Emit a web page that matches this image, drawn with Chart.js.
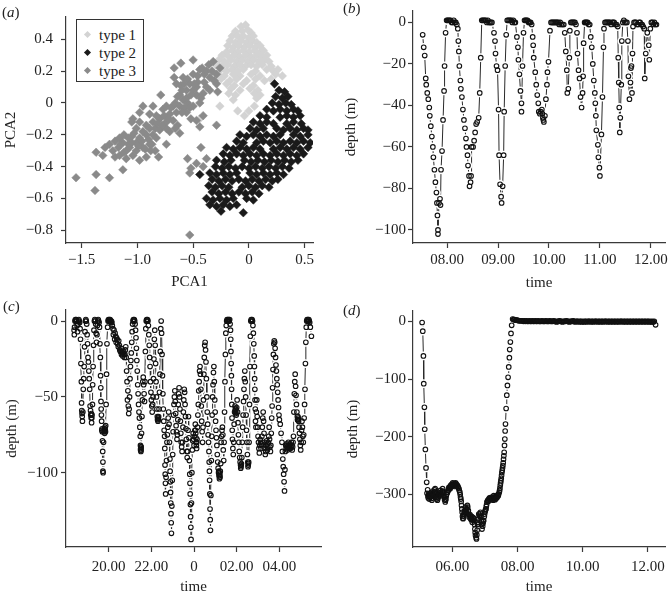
<!DOCTYPE html>
<html>
<head>
<meta charset="utf-8">
<script src="https://cdn.jsdelivr.net/npm/chart.js@4.4.0/dist/chart.umd.min.js"></script>
<style>
  body { margin: 0; background: #fff; }
  #wrap { position: relative; width: 671px; height: 596px; font-family: "Liberation Serif", "Times New Roman", serif; color: #222; }
  .panel { position: absolute; }
  .tag { position: absolute; font-size: 15px; line-height: 15px; }
  #legend { position: absolute; left: 76px; top: 19px; width: 66px; height: 61px; border: 1.3px solid #333; background: #fff; font-size: 15px; }
  #legend .row { position: absolute; left: 0; height: 18px; line-height: 18px; }
  #legend .mark { position: absolute; left: 8px; top: 6px; width: 5px; height: 5px; transform: rotate(45deg); }
  #legend .txt { position: absolute; left: 22px; white-space: nowrap; }
</style>
</head>
<body>
<div id="wrap">
  <canvas id="chartA" class="panel" width="335" height="298" style="left:0;top:0"></canvas>
  <canvas id="chartB" class="panel" width="336" height="298" style="left:335px;top:0"></canvas>
  <canvas id="chartC" class="panel" width="335" height="298" style="left:0;top:298px"></canvas>
  <canvas id="chartD" class="panel" width="336" height="298" style="left:335px;top:298px"></canvas>
  <div class="tag" style="left:2px;top:5px">(<i>a</i>)</div>
  <div class="tag" style="left:343px;top:1px">(<i>b</i>)</div>
  <div class="tag" style="left:3px;top:299px">(<i>c</i>)</div>
  <div class="tag" style="left:343px;top:303px">(<i>d</i>)</div>
  <div id="legend">
    <div class="row" style="top:6px"><span class="mark" style="background:#d3d3d3"></span><span class="txt">type 1</span></div>
    <div class="row" style="top:24px"><span class="mark" style="background:#1a1a1a"></span><span class="txt">type 2</span></div>
    <div class="row" style="top:42px"><span class="mark" style="background:#8a8a8a"></span><span class="txt">type 3</span></div>
  </div>
</div>
<script>
// ---- panel (a): PCA scores, [PCA1, PCA2] ----
const type1Points = [
  [-0.07,0.48],[-0.03,0.49],
  [-0.12,0.45],[-0.06,0.45],[-0.01,0.46],[0.02,0.44],
  [-0.15,0.42],[-0.10,0.42],[-0.05,0.42],[0,0.41],[0.04,0.42],
  [-0.17,0.39],[-0.12,0.38],[-0.07,0.39],[-0.02,0.38],[0.03,0.39],[0.07,0.38],
  [-0.19,0.36],[-0.14,0.35],[-0.09,0.36],[-0.04,0.35],[0.01,0.36],[0.06,0.35],[0.10,0.36],
  [-0.20,0.32],[-0.15,0.33],[-0.10,0.32],[-0.05,0.33],[0,0.32],[0.05,0.33],[0.10,0.32],[0.13,0.33],
  [-0.24,0.30],[-0.18,0.29],[-0.13,0.30],[-0.08,0.29],[-0.03,0.30],[0.02,0.29],[0.07,0.30],[0.12,0.29],[0.16,0.30],
  [-0.27,0.27],[-0.22,0.26],[-0.16,0.27],[-0.11,0.26],[-0.06,0.27],[-0.01,0.26],[0.04,0.27],[0.09,0.26],[0.14,0.27],[0.18,0.26],
  [-0.30,0.24],[-0.24,0.23],[-0.19,0.24],[-0.13,0.23],[-0.08,0.24],[-0.03,0.23],[0.02,0.24],[0.07,0.23],[0.12,0.24],[0.20,0.23],
  [-0.25,0.21],[-0.20,0.20],[-0.15,0.21],[-0.10,0.20],[-0.05,0.21],[0.06,0.20],[0.16,0.21],[0.22,0.20],[0.26,0.21],
  [-0.28,0.18],[-0.22,0.17],[-0.14,0.18],[-0.08,0.17],[0.02,0.18],[0.10,0.17],[0.24,0.18],[0.30,0.17],
  [-0.25,0.15],[-0.17,0.14],[-0.11,0.15],[-0.02,0.14],[0.06,0.15],[0.14,0.14],[0.20,0.15],
  [-0.20,0.12],[-0.13,0.11],[-0.05,0.12],[0.04,0.11],
  [-0.16,0.09],[-0.08,0.08],[0.01,0.09],[0.08,0.08],
  [-0.18,0.06],[-0.12,0.05],[0.05,0.06],[0.10,0.05],
  [-0.14,0.02],[0.07,0.03],[-0.26,-0.02],[0.05,-0.02],[-0.10,-0.05],[0,-0.05],[-0.04,-0.08],[-0.44,-0.10]
];
const type2Points = [
  [0.23,0.12],
  [0.27,0.08],[0.32,0.07],
  [0.24,0.04],[0.30,0.03],[0.35,0.04],
  [0.21,0.00],[0.27,-0.01],[0.33,0.00],[0.38,-0.01],
  [0.16,-0.04],[0.22,-0.05],[0.28,-0.04],[0.34,-0.05],[0.40,-0.04],[0.44,-0.05],
  [0.10,-0.08],[0.16,-0.09],[0.28,-0.09],[0.34,-0.08],[0.40,-0.09],[0.46,-0.08],
  [0.04,-0.12],[0.10,-0.13],[0.16,-0.12],[0.22,-0.13],[0.34,-0.13],[0.40,-0.12],[0.47,-0.13],
  [0.01,-0.16],[0.07,-0.17],[0.13,-0.16],[0.25,-0.16],[0.31,-0.17],[0.37,-0.16],[0.43,-0.17],[0.49,-0.16],[0.53,-0.17],
  [-0.08,-0.20],[-0.02,-0.21],[0.04,-0.20],[0.10,-0.21],[0.16,-0.20],[0.22,-0.21],[0.28,-0.20],[0.40,-0.20],[0.46,-0.21],[0.53,-0.20],
  [-0.11,-0.24],[-0.05,-0.25],[0.07,-0.25],[0.13,-0.24],[0.19,-0.25],[0.25,-0.24],[0.31,-0.25],[0.37,-0.24],[0.43,-0.25],[0.49,-0.24],[0.55,-0.25],
  [-0.20,-0.28],[-0.14,-0.29],[-0.08,-0.28],[-0.02,-0.29],[0.04,-0.28],[0.10,-0.29],[0.22,-0.29],[0.28,-0.28],[0.34,-0.29],[0.40,-0.28],[0.46,-0.29],[0.53,-0.28],
  [-0.23,-0.32],[-0.17,-0.33],[-0.11,-0.32],[-0.05,-0.33],[0.01,-0.32],[0.07,-0.33],[0.13,-0.32],[0.19,-0.33],[0.25,-0.32],[0.31,-0.33],[0.37,-0.32],[0.43,-0.33],[0.49,-0.32],
  [-0.29,-0.36],[-0.22,-0.37],[-0.16,-0.36],[-0.04,-0.36],[0.02,-0.37],[0.08,-0.36],[0.14,-0.37],[0.20,-0.36],[0.26,-0.37],[0.32,-0.36],[0.38,-0.37],[0.44,-0.36],
  [-0.30,-0.40],[-0.24,-0.41],[-0.18,-0.40],[-0.12,-0.41],[-0.06,-0.40],[0,-0.41],[0.06,-0.40],[0.12,-0.41],[0.18,-0.40],[0.24,-0.41],[0.30,-0.40],[0.36,-0.41],
  [-0.35,-0.44],[-0.29,-0.45],[-0.23,-0.44],[-0.17,-0.45],[-0.11,-0.44],[0.01,-0.44],[0.07,-0.45],[0.13,-0.44],[0.19,-0.45],[0.25,-0.44],[0.31,-0.45],
  [-0.33,-0.48],[-0.27,-0.49],[-0.21,-0.48],[-0.15,-0.49],[-0.09,-0.48],[-0.03,-0.49],[0.03,-0.48],[0.09,-0.49],[0.15,-0.48],[0.21,-0.49],[0.26,-0.48],
  [-0.36,-0.52],[-0.30,-0.53],[-0.24,-0.52],[-0.18,-0.53],[-0.06,-0.53],[0,-0.52],[0.06,-0.53],[0.12,-0.52],[0.18,-0.53],
  [-0.33,-0.56],[-0.27,-0.57],[-0.21,-0.56],[-0.15,-0.57],[-0.09,-0.56],[-0.03,-0.57],[0.03,-0.56],[0.09,-0.57],
  [-0.38,-0.60],[-0.32,-0.61],[-0.26,-0.60],[-0.20,-0.61],[-0.14,-0.60],[-0.02,-0.60],[0.04,-0.61],
  [-0.35,-0.64],[-0.29,-0.65],[-0.23,-0.64],[-0.17,-0.65],[-0.11,-0.64],
  [-0.25,-0.68],[-0.05,-0.69],[-0.44,-0.45]
];
const type3Points = [
  [-1.55,-0.47],[-1.38,-0.55],[-1.37,-0.45],[-1.25,-0.47],[-1.13,-0.42],[-1.37,-0.31],[-1.29,-0.28],[-1.20,-0.34],
  [-1.20,-0.24],[-1.16,-0.22],[-1.08,-0.26],[-1.01,-0.30],[-0.92,-0.34],[-0.98,-0.36],[-1.04,-0.33],[-1.10,-0.30],
  [-1.05,-0.21],[-1.01,-0.16],[-0.98,-0.12],[-0.92,-0.14],[-0.86,-0.20],[-0.89,-0.26],[-0.83,-0.22],[-0.95,-0.02],
  [-0.86,-0.02],[-0.83,-0.08],[-0.77,-0.04],[-0.74,-0.12],[-0.71,-0.18],[-0.68,-0.11],[-0.65,-0.06],[-0.62,-0.02],
  [-0.59,0.02],[-0.56,0.08],[-0.53,0.12],[-0.50,0.18],[-0.61,0.11],[-0.67,0.22],[-0.61,0.25],[-0.65,0.12],
  [-0.58,-0.03],[-0.56,-0.06],[-0.52,-0.10],[-0.50,-0.02],[-0.44,0],[-0.41,0.06],[-0.38,0.10],[-0.35,0.16],
  [-0.32,0.26],[-0.50,0.27],[-0.44,0.21],[-0.40,0.18],[-0.29,0.18],[-0.26,0.22],[-0.29,0.12],[-0.41,-0.08],
  [-0.29,-0.14],[-0.43,-0.28],[-0.38,-0.35],[-0.55,-0.35],[-0.52,-0.41],[-0.47,-0.38],[-0.41,-0.40],[-0.53,-0.44],
  [-0.79,0.05],[-0.67,0.16],[-0.89,-0.07],[-0.98,-0.06],[-1.04,-0.10],[-1.05,-0.12],[-0.84,-0.30],[-0.81,-0.34],
  [-0.74,-0.26],[-1.01,-0.25],[-1.17,-0.28],[-1.16,-0.33],[-1.10,-0.35],[-0.98,-0.22],[-0.95,-0.28],[-0.80,-0.17],
  [-0.74,-0.16],[-0.64,-0.14],[-0.62,-0.19],[-0.55,0],[-0.47,0.05],[-0.46,0.13],[-0.35,0.08],[-0.38,0.20],
  [-0.28,0.07],[-0.47,-0.11],[-0.44,-0.15],[-1.13,-0.25],[-1.07,-0.28],[-0.92,-0.20],[-0.89,-0.16],[-0.80,-0.10],
  [-0.71,-0.07],[-0.68,-0.02],[-0.74,-0.02],[-0.86,-0.12],[-0.95,-0.18],[-1.05,-0.25],[-0.62,0.05],[-0.56,0.03],
  [-0.53,-0.03],[-0.59,0.16],[-0.47,0.10],[-0.43,0.03],[-0.40,0.13],[-0.50,0.08],[-0.53,-0.83],
  [-1.22,-0.30],[-1.15,-0.26],[-1.12,-0.20],[-1.08,-0.22],[-1.03,-0.19],[-0.99,-0.27],[-0.96,-0.24],[-0.93,-0.29],
  [-0.90,-0.23],[-0.87,-0.26],[-0.84,-0.16],[-0.82,-0.13],[-0.78,-0.14],[-0.76,-0.08],[-0.72,-0.10],[-0.70,-0.03],
  [-0.66,0.00],[-0.64,0.04],[-0.60,0.08],[-0.58,0.12],[-0.55,0.15],[-0.52,0.05],[-0.49,0.12],[-0.46,0.17],
  [-0.42,0.22],[-0.36,0.24],[-0.33,0.20],[-0.31,0.14],[-0.60,-0.06],[-0.66,-0.16],[-0.88,-0.30],[-1.12,-0.31],
  [-1.25,-0.26],[-1.31,-0.33]
];
const pcaXTicks = [-1.5, -1, -0.5, 0, 0.5];
const pcaXLabels = ['\u22121.5', '\u22121.0', '\u22120.5', '0', '0.5'];
const pcaYTicks = [0.4, 0.2, 0, -0.2, -0.4, -0.6, -0.8];
const pcaYLabels = ['0.4', '0.2', '0', '\u22120.2', '\u22120.4', '\u22120.6', '\u22120.8'];

// ---- panel (b): [time in hours, depth m] ----
const diveB = [
  [7.52,-6],[7.54,-12],[7.56,-16],[7.58,-27],[7.59,-30],[7.61,-34],[7.63,-37],[7.65,-41],[7.66,-45],[7.68,-50],
  [7.70,-55],[7.72,-60],[7.73,-65],[7.75,-71],[7.77,-77],[7.79,-82],[7.80,-87],[7.81,-93],[7.82,-100],[7.82,-102],
  [7.84,-87],[7.86,-85],[7.87,-88],[7.88,-71],[7.90,-62],[7.92,-47],[7.94,-33],[7.95,-21],[7.97,-5],
  [7.99,1],[8.01,1],[8.03,1],[8.05,1],[8.07,1],[8.09,0],[8.11,0],[8.13,1],[8.15,0],[8.17,0],[8.19,-1],
  [8.21,-3],[8.22,-9],[8.23,-14],[8.24,-21],[8.26,-28],[8.27,-32],[8.29,-36],[8.31,-42],[8.33,-47],[8.35,-51],
  [8.37,-56],[8.38,-60],[8.40,-64],[8.41,-69],[8.43,-74],[8.44,-79],[8.46,-77],[8.47,-74],[8.48,-60],[8.51,-60],
  [8.53,-57],[8.55,-53],[8.57,-49],[8.59,-48],[8.62,-46],[8.64,-34],[8.66,-17],
  [8.68,1],[8.70,1],[8.72,1],[8.74,1],[8.76,1],[8.78,0],[8.80,1],[8.82,0],[8.84,0],[8.86,0],[8.88,0],
  [8.92,-5],[8.94,-9],[8.95,-15],[8.97,-21],[8.99,-23],[9.01,-42],[9.02,-64],[9.04,-78],[9.06,-84],[9.07,-87],
  [9.09,-79],[9.11,-64],[9.12,-43],[9.14,-21],[9.16,-6],
  [9.18,1],[9.20,1],[9.22,1],[9.24,1],[9.26,1],[9.28,0],[9.30,1],[9.32,0],[9.34,0],
  [9.37,-7],[9.39,-12],[9.40,-18],[9.42,-25],[9.44,-33],[9.46,-39],[9.46,-43],[9.48,-21],[9.50,-5],
  [9.52,1],[9.54,1],[9.56,1],[9.58,1],[9.60,0],[9.62,0],[9.64,0],[9.66,-1],
  [9.68,-7],[9.69,-11],[9.70,-17],[9.73,-24],[9.75,-30],[9.77,-35],[9.79,-39],[9.80,-43],[9.82,-44],[9.84,-43],
  [9.86,-42],[9.87,-44],[9.88,-46],[9.89,-47],[9.90,-48],[9.92,-45],[9.94,-37],[9.96,-30],[9.97,-24],[9.99,-19],[10.02,-4],
  [10.04,0],[10.06,0],[10.08,0],[10.10,0],[10.12,0],[10.14,0],[10.16,0],[10.18,0],[10.20,-1],[10.22,0],[10.24,-1],[10.27,-1],[10.29,-1],
  [10.31,-5],[10.33,-14],[10.35,-23],[10.36,-34],[10.38,-32],[10.40,-17],[10.41,-4],
  [10.43,0],[10.45,0],[10.47,0],[10.49,0],[10.51,0],[10.53,-1],
  [10.55,-5],[10.56,-15],[10.58,-23],[10.60,-27],[10.62,-36],[10.64,-41],[10.66,-34],[10.67,-26],[10.68,-10],
  [10.70,0],[10.72,0],[10.74,0],[10.76,0],[10.78,-1],[10.80,-1],
  [10.82,-7],[10.84,-12],[10.86,-20],[10.88,-28],[10.90,-34],[10.91,-39],[10.92,-45],[10.93,-52],[10.96,-59],[10.97,-65],
  [10.99,-70],[11.00,-74],[11.03,-54],[11.05,-36],[11.07,-12],[11.08,-3],
  [11.10,0],[11.12,0],[11.14,0],[11.16,0],[11.18,0],[11.20,0],[11.22,-1],[11.24,0],[11.26,0],[11.28,0],[11.30,-1],[11.33,-1],
  [11.35,-2],[11.36,-17],[11.37,-29],[11.38,-41],[11.39,-53],[11.40,-46],[11.42,-30],[11.43,-9],
  [11.45,0],[11.47,1],[11.49,0],[11.51,0],[11.53,0],
  [11.55,-9],[11.56,-26],[11.58,-37],[11.60,-29],[11.61,-22],[11.62,-21],[11.63,-34],[11.64,-15],[11.65,-2],
  [11.67,0],[11.69,0],[11.71,0],[11.73,-1],[11.75,-1],[11.77,0],[11.79,0],[11.81,-1],[11.83,-1],[11.85,-2],
  [11.87,-3],[11.88,-27],[11.90,-15],[11.93,-5],[11.96,-11],[11.97,-18],[11.99,-3],
  [12.01,0],[12.03,0],[12.05,-1],[12.07,0],[12.09,-1],[12.11,-1]
];
const timeBTicks = [8, 9, 10, 11, 12];
const timeBLabels = ['08.00', '09.00', '10.00', '11.00', '12.00'];
const depthBTicks = [0, -20, -40, -60, -80, -100];
const depthBLabels = ['0', '\u221220', '\u221240', '\u221260', '\u221280', '\u2212100'];

// ---- panel (c): [time in hours after previous midnight, depth m] ----
const diveC = [
  [18.38,-6],[18.39,-9],[18.40,-4],[18.42,0],[18.44,1],[18.46,0],[18.48,1],[18.50,0],[18.52,-3],[18.54,-7],
  [18.56,-2],[18.58,0],[18.60,1],[18.62,0],[18.64,-1],
  [18.66,-5],[18.68,-12],[18.70,-28],[18.72,-40],[18.73,-54],[18.74,-59],[18.75,-61],[18.76,-63],[18.77,-66],[18.79,-60],
  [18.81,-45],[18.83,-38],[18.85,-30],[18.87,-17],[18.89,-7],[18.91,0],[18.93,1],[18.95,0],[18.97,-2],
  [18.99,-9],[19.01,-15],[19.03,-24],[19.05,-27],[19.07,-33],[19.09,-38],[19.11,-45],[19.13,-56],[19.15,-59],[19.16,-62],
  [19.18,-64],[19.19,-61],[19.20,-67],[19.21,-64],[19.22,-62],[19.24,-55],[19.25,-42],[19.27,-30],[19.29,-16],[19.31,-6],[19.33,0],[19.35,1],
  [19.37,0],[19.39,-2],[19.41,-8],[19.43,-14],[19.45,-9],[19.47,-3],[19.49,0],[19.51,1],[19.53,0],[19.55,-1],
  [19.57,-4],[19.59,-15],[19.61,-24],[19.62,-36],[19.63,-44],[19.64,-53],[19.65,-58],[19.66,-62],[19.67,-66],[19.68,-72],
  [19.69,-71],[19.70,-73],[19.71,-79],[19.72,-86],[19.73,-93],[19.73,-99],[19.74,-100],[19.76,-80],[19.78,-73],[19.79,-71],[19.80,-72],
  [19.81,-74],[19.82,-71],[19.83,-70],[19.84,-72],[19.85,-73],[19.86,-69],[19.88,-55],[19.90,-35],[19.92,-15],[19.95,-4],
  [19.97,0],[19.99,1],[20.01,0],[20.03,1],[20.05,0],[20.07,1],[20.09,0],[20.11,-1],[20.13,0],[20.15,-1],[20.17,-3],
  [20.20,-5],[20.22,-9],[20.25,-6],[20.28,-12],[20.30,-8],[20.33,-10],[20.35,-14],[20.37,-11],[20.40,-12],[20.42,-15],
  [20.45,-17],[20.47,-13],[20.50,-16],[20.52,-19],[20.55,-20],[20.58,-18],[20.60,-22],[20.62,-20],[20.64,-21],[20.66,-23],
  [20.68,-21],[20.70,-20],[20.72,-22],[20.74,-24],[20.76,-22],[20.78,-19],
  [20.80,-17],[20.82,-24],[20.84,-33],[20.86,-40],[20.88,-52],[20.90,-46],[20.92,-56],[20.94,-61],[20.96,-58],[20.98,-50],
  [21.00,-38],[21.02,-30],[21.04,-26],[21.06,-21],[21.08,-14],[21.10,-7],[21.12,-2],[21.14,0],[21.16,1],[21.18,0],
  [21.20,1],[21.22,0],[21.24,-2],[21.26,-6],
  [21.28,-11],[21.30,-18],[21.32,-26],[21.34,-33],[21.36,-42],[21.38,-48],[21.40,-55],[21.42,-60],[21.44,-64],[21.46,-70],
  [21.48,-76],[21.49,-82],[21.495,-85],[21.50,-84],[21.505,-83],[21.51,-86],[21.515,-85],[21.52,-83],[21.54,-74],[21.56,-63],[21.58,-52],[21.60,-40],[21.62,-37],
  [21.64,-42],[21.66,-48],[21.68,-53],[21.70,-40],[21.72,-20],[21.74,-5],[21.76,0],[21.78,1],[21.80,0],[21.82,1],
  [21.84,0],[21.86,-3],
  [21.88,-9],[21.90,-16],[21.92,-24],[21.94,-30],[21.96,-40],[21.98,-47],[22.00,-52],[22.02,-56],[22.04,-60],[22.06,-55],
  [22.08,-50],[22.10,-38],[22.12,-25],[22.14,-12],[22.16,-6],[22.18,-16],[22.20,-28],[22.22,-40],[22.24,-50],[22.26,-58],
  [22.28,-63],[22.29,-65],[22.30,-64],[22.31,-66],[22.32,-65],[22.33,-64],[22.34,-63],[22.36,-58],[22.38,-47],[22.40,-35],[22.42,-20],[22.44,-5],[22.46,0],
  [22.48,-8],[22.50,-22],[22.52,-36],[22.54,-48],[22.56,-58],[22.58,-66],[22.60,-72],[22.62,-76],[22.63,-84],[22.64,-95],
  [22.65,-101],[22.66,-107],[22.67,-114],[22.69,-103],[22.71,-92],[22.73,-80],[22.75,-75],[22.77,-70],[22.79,-64],[22.81,-60],
  [22.83,-68],[22.85,-80],[22.87,-91],[22.88,-99],[22.89,-106],[22.90,-113],[22.91,-120],[22.92,-127],[22.93,-133],[22.94,-140],
  [22.96,-122],[22.98,-105],[23.00,-88],[23.02,-73],[23.04,-62],[23.06,-55],[23.08,-50],[23.10,-46],[23.12,-53],[23.14,-61],
  [23.16,-69],[23.18,-73],[23.20,-78],[23.22,-75],[23.24,-65],[23.26,-55],[23.28,-48],[23.30,-44],[23.32,-50],[23.34,-58],
  [23.36,-66],[23.38,-74],[23.40,-80],[23.42,-83],[23.44,-86],[23.46,-80],[23.48,-70],[23.50,-60],[23.52,-52],[23.54,-45],
  [23.56,-47],[23.58,-55],[23.60,-63],[23.62,-71],[23.64,-78],[23.66,-86],[23.68,-90],[23.70,-86],[23.72,-72],[23.74,-63],
  [23.76,-77],[23.78,-92],[23.80,-101],[23.81,-107],[23.82,-114],[23.83,-121],[23.84,-129],[23.85,-136],[23.86,-144],[23.88,-120],
  [23.90,-100],[23.92,-85],[23.94,-79],[23.96,-74],[23.98,-78],[24.00,-82],[24.02,-76],[24.04,-72],
  [24.06,-68],[24.07,-72],[24.08,-74],[24.09,-77],[24.10,-80],[24.11,-82],[24.12,-84],[24.13,-80],[24.14,-78],[24.16,-70],[24.18,-62],[24.20,-55],[24.22,-46],[24.24,-40],
  [24.26,-33],[24.28,-30],[24.30,-35],[24.32,-45],[24.34,-56],[24.36,-66],[24.38,-73],[24.40,-80],[24.42,-70],[24.44,-52],
  [24.46,-35],[24.48,-24],[24.50,-16],[24.52,-14],[24.54,-19],[24.56,-27],[24.58,-38],[24.60,-50],[24.62,-60],[24.64,-68],
  [24.66,-75],[24.68,-80],[24.70,-86],[24.71,-93],[24.72,-99],[24.73,-105],[24.74,-114],[24.75,-124],[24.76,-131],[24.77,-138],
  [24.79,-115],[24.81,-92],[24.83,-76],[24.85,-62],[24.87,-50],[24.89,-42],[24.91,-34],[24.93,-30],[24.95,-40],[24.97,-52],
  [24.99,-60],[25.01,-66],[25.03,-72],[25.05,-77],[25.07,-82],[25.09,-88],[25.11,-93],[25.13,-97],[25.15,-100],[25.16,-99],[25.17,-102],
  [25.18,-100],[25.19,-104],[25.20,-102],[25.21,-101],[25.22,-103],[25.23,-99],[25.25,-94],[25.27,-80],[25.29,-76],[25.31,-72],[25.33,-70],[25.35,-75],[25.37,-85],
  [25.39,-92],[25.41,-80],[25.43,-60],[25.45,-40],[25.47,-22],[25.49,-8],
  [25.51,-3],[25.53,0],[25.55,1],[25.57,0],[25.59,1],[25.61,0],[25.63,1],[25.65,0],[25.67,1],[25.69,-2],
  [25.71,-6],[25.72,-12],[25.73,-20],[25.74,-28],[25.75,-36],[25.76,-45],[25.77,-55],[25.78,-64],[25.79,-72],[25.80,-78],
  [25.82,-84],[25.84,-88],[25.86,-80],[25.88,-68],[25.90,-60],[25.92,-56],[25.93,-59],[25.94,-58],[25.95,-61],[25.96,-60],[25.97,-58],[25.98,-62],[26.00,-57],
  [26.02,-52],[26.04,-60],[26.06,-67],[26.08,-75],[26.10,-80],[26.12,-86],[26.14,-90],[26.16,-93],[26.18,-95],[26.19,-97],[26.20,-96],
  [26.21,-95],[26.22,-94],[26.24,-90],[26.26,-80],[26.28,-70],[26.30,-62],[26.32,-53],[26.34,-45],[26.36,-38],[26.38,-33],[26.40,-40],
  [26.42,-50],[26.44,-62],[26.46,-72],[26.48,-80],[26.50,-88],[26.52,-93],[26.53,-96],[26.54,-95],[26.55,-94],[26.56,-93],[26.58,-80],[26.60,-55],
  [26.62,-30],[26.64,-10],[26.66,0],[26.68,1],[26.70,0],[26.72,1],[26.74,0],[26.76,-3],
  [26.78,-8],[26.80,-15],[26.82,-23],[26.83,-30],[26.84,-38],[26.85,-45],[26.86,-52],[26.87,-58],[26.88,-66],[26.90,-70],
  [26.92,-60],[26.94,-52],[26.96,-63],[26.98,-70],[27.00,-76],[27.02,-80],[27.04,-84],[27.06,-87],[27.08,-82],[27.10,-78],
  [27.12,-80],[27.14,-84],[27.16,-81],[27.18,-76],[27.20,-70],[27.22,-64],[27.24,-60],[27.26,-66],[27.28,-74],[27.30,-80],
  [27.32,-84],[27.34,-88],[27.36,-86],[27.38,-82],[27.40,-79],[27.42,-81],[27.44,-85],[27.46,-83],[27.48,-80],[27.50,-76],
  [27.52,-70],[27.54,-78],[27.56,-83],[27.58,-86],[27.60,-82],[27.62,-74],[27.64,-64],[27.66,-56],[27.68,-44],[27.70,-32],
  [27.72,-22],[27.74,-15],[27.76,-13],
  [27.78,-14],[27.80,-18],[27.82,-24],[27.84,-29],[27.86,-33],[27.88,-38],[27.90,-42],[27.92,-47],[27.94,-52],[27.96,-57],
  [27.98,-62],[28.00,-65],[28.04,-68],[28.08,-74],[28.12,-80],[28.14,-86],[28.16,-91],[28.18,-96],[28.20,-101],[28.22,-106],
  [28.24,-112],[28.26,-98],[28.28,-86],[28.30,-82],[28.32,-84],[28.34,-81],[28.36,-83],[28.38,-85],[28.40,-82],[28.42,-80],
  [28.44,-83],[28.46,-84],[28.48,-82],[28.50,-81],[28.52,-84],[28.54,-83],[28.56,-80],[28.58,-82],[28.60,-85],[28.62,-83],
  [28.64,-80],[28.66,-76],
  [28.68,-60],[28.70,-48],[28.72,-40],[28.74,-35],[28.76,-43],[28.78,-49],[28.80,-55],[28.82,-60],[28.84,-63],[28.85,-65],[28.86,-65],
  [28.87,-63],[28.88,-64],[28.89,-65],[28.90,-66],[28.92,-70],[28.94,-74],[28.96,-78],[28.98,-82],[29.00,-85],[29.02,-80],[29.04,-72],[29.06,-66],
  [29.08,-70],[29.10,-76],[29.12,-80],[29.14,-75],[29.16,-64],[29.18,-55],[29.20,-45],[29.22,-28],[29.24,-14],[29.26,-4],
  [29.28,0],[29.30,1],[29.32,0],[29.34,1],[29.36,0],[29.38,1],[29.40,0],[29.42,-1],[29.45,-4],[29.50,-10]
];
const timeCTicks = [20, 22, 24, 26, 28];
const timeCLabels = ['20.00', '22.00', '0', '02.00', '04.00'];
const depthCTicks = [0, -50, -100];
const depthCLabels = ['0', '\u221250', '\u2212100'];

// ---- panel (d): [time in hours, depth m] ----
const diveD = [
  [5.07,-2],[5.09,-17],[5.11,-60],[5.12,-108],[5.14,-149],[5.15,-187],[5.17,-222],[5.19,-254],[5.21,-279],
  [5.22,-298],[5.24,-292],[5.25,-303],[5.26,-306],[5.27,-299],[5.28,-302],[5.29,-308],[5.30,-300],[5.31,-305],[5.32,-298],
  [5.33,-297],[5.34,-304],[5.35,-302],[5.36,-307],[5.37,-310],[5.38,-303],[5.39,-299],[5.40,-294],[5.42,-303],[5.43,-298],
  [5.44,-296],[5.45,-292],[5.47,-290],[5.48,-295],[5.49,-298],[5.50,-301],[5.51,-305],[5.52,-308],[5.54,-310],[5.55,-304],
  [5.56,-306],[5.58,-300],[5.59,-302],[5.60,-297],[5.62,-299],[5.63,-293],[5.65,-296],[5.66,-300],[5.67,-302],[5.69,-295],
  [5.70,-290],[5.71,-294],[5.72,-298],[5.74,-302],[5.75,-305],[5.76,-309],[5.78,-313],[5.79,-310],[5.80,-308],[5.81,-303],
  [5.82,-300],[5.84,-297],[5.85,-296],[5.87,-293],[5.88,-292],[5.89,-289],[5.90,-287],[5.92,-288],[5.93,-290],[5.94,-287],
  [5.95,-284],[5.97,-283],[5.98,-286],[6.00,-282],[6.01,-280],[6.03,-284],[6.04,-283],[6.05,-282],[6.07,-281],[6.08,-286],
  [6.10,-280],[6.11,-282],[6.13,-283],[6.14,-285],[6.15,-284],[6.17,-286],[6.18,-288],[6.20,-290],[6.21,-293],[6.23,-296],
  [6.24,-300],[6.25,-305],[6.26,-308],[6.27,-312],[6.28,-319],[6.29,-325],[6.30,-331],[6.31,-338],[6.32,-341],[6.33,-342],
  [6.34,-337],[6.35,-334],[6.37,-330],[6.38,-328],[6.40,-322],[6.41,-325],[6.42,-330],[6.43,-333],[6.45,-325],[6.46,-319],
  [6.47,-322],[6.49,-328],[6.50,-334],[6.51,-339],[6.53,-337],[6.54,-335],[6.55,-338],[6.56,-342],[6.58,-344],[6.59,-338],
  [6.60,-343],[6.61,-348],[6.63,-344],[6.64,-340],[6.65,-342],[6.66,-345],[6.68,-352],[6.69,-360],[6.70,-366],[6.71,-371],
  [6.73,-375],[6.74,-377],[6.75,-370],[6.76,-362],[6.77,-352],[6.78,-348],[6.79,-351],[6.80,-342],[6.81,-334],[6.83,-336],
  [6.84,-338],[6.85,-333],[6.86,-331],[6.88,-338],[6.89,-345],[6.90,-352],[6.91,-360],[6.93,-355],[6.94,-350],[6.95,-347],
  [6.96,-345],[6.98,-338],[6.99,-334],[7.00,-330],[7.01,-328],[7.02,-326],[7.03,-325],[7.04,-321],[7.05,-318],[7.06,-313],
  [7.08,-311],[7.09,-310],[7.10,-312],[7.11,-309],[7.13,-307],[7.14,-306],[7.15,-309],[7.16,-308],[7.18,-306],[7.19,-305],
  [7.21,-307],[7.22,-305],[7.24,-308],[7.25,-310],[7.26,-306],[7.27,-302],[7.29,-304],[7.30,-306],[7.31,-309],[7.32,-308],
  [7.34,-305],[7.35,-303],[7.36,-306],[7.37,-305],[7.39,-302],[7.40,-300],[7.41,-302],[7.42,-299],[7.44,-296],[7.45,-293],
  [7.46,-289],[7.47,-284],[7.48,-280],[7.49,-276],[7.50,-272],[7.51,-267],[7.52,-262],[7.53,-258],[7.54,-254],[7.55,-250],
  [7.56,-245],[7.57,-239],[7.58,-233],[7.59,-227],[7.60,-215],[7.61,-204],[7.62,-190],[7.63,-178],[7.65,-151],[7.67,-128],
  [7.69,-111],[7.71,-97],[7.73,-79],[7.75,-63],[7.76,-49],[7.78,-36],[7.80,-21],[7.82,-7],
  [7.85,4],[7.88,3],[7.91,3],[7.94,2],[7.97,2],[8.00,2],[8.03,1],[8.06,1],[8.09,1],[8.12,1],
  [8.15,1],[8.18,0],[8.21,1],[8.24,0],[8.27,1],[8.30,0],[8.33,0],[8.36,1],[8.39,0],[8.42,0],
  [8.45,1],[8.48,0],[8.51,0],[8.54,1],[8.57,0],[8.60,0],[8.63,1],[8.66,0],[8.69,0],[8.72,0],
  [8.75,1],[8.78,0],[8.81,0],[8.84,0],[8.87,1],[8.90,0],[8.93,0],[8.96,0],[8.99,1],[9.02,0],
  [9.05,0],[9.08,0],[9.11,1],[9.14,0],[9.17,0],[9.20,-1],[9.23,0],[9.26,0],[9.29,1],[9.32,0],
  [9.35,0],[9.38,-1],[9.41,0],[9.44,0],[9.47,0],[9.50,1],[9.53,0],[9.56,0],[9.59,-1],[9.62,0],
  [9.65,0],[9.68,0],[9.71,1],[9.74,0],[9.77,-1],[9.80,0],[9.83,0],[9.86,0],[9.89,-1],[9.92,0],
  [9.95,0],[9.98,-1],[10.01,0],[10.04,-1],[10.07,0],[10.10,0],[10.13,-1],[10.16,0],[10.19,0],[10.22,0],
  [10.25,-1],[10.28,0],[10.31,0],[10.34,-1],[10.37,0],[10.40,0],[10.43,0],[10.46,-1],[10.49,0],[10.52,0],
  [10.55,-1],[10.58,0],[10.61,0],[10.64,-1],[10.67,0],[10.70,0],[10.73,0],[10.76,-1],[10.79,0],[10.82,0],
  [10.85,-1],[10.88,0],[10.91,0],[10.94,-1],[10.97,0],[11.00,0],[11.03,-1],[11.06,0],[11.09,0],[11.12,-1],
  [11.15,0],[11.18,0],[11.21,0],[11.24,-1],[11.27,0],[11.30,0],[11.33,-1],[11.36,0],[11.39,0],[11.42,-1],
  [11.45,0],[11.48,0],[11.51,-1],[11.54,0],[11.57,0],[11.60,-1],[11.63,0],[11.66,0],[11.69,-1],[11.72,0],
  [11.75,0],[11.78,-1],[11.81,0],[11.84,0],[11.87,-1],[11.90,0],[11.93,0],[11.96,-1],[11.99,0],[12.02,0],
  [12.05,-1],[12.08,0],[12.11,-1],[12.14,0],[12.17,-1],[12.20,0],[12.24,-6]
];
const timeDTicks = [6, 8, 10, 12];
const timeDLabels = ['06.00', '08.00', '10.00', '12.00'];
const depthDTicks = [0, -100, -200, -300];
const depthDLabels = ['0', '\u2212100', '\u2212200', '\u2212300'];

const serif = { family: '"Liberation Serif", "Times New Roman", serif', size: 15 };
const ink = '#222';
const axisColor = '#3a3a3a';
const toXY = arr => arr.map(([x, y]) => ({ x: x, y: y }));

// one axis: fixed ticks and labels, fixed box size so the plot areas line up with the figure
function makeAxis(o) {
  return {
    type: 'linear',
    min: o.min,
    max: o.max,
    border: { display: true, color: axisColor, width: 1.2 },
    grid: { display: true, drawOnChartArea: false, drawTicks: true, tickLength: 5, tickColor: axisColor, tickWidth: 1.2 },
    ticks: {
      color: ink, font: serif, padding: o.pad, autoSkip: false, maxRotation: 0,
      callback: (v, i) => o.labels[i]
    },
    title: { display: true, text: o.title, color: ink, font: serif, padding: o.titlePad },
    afterBuildTicks: s => { s.ticks = o.ticks.map(v => ({ value: v })); },
    afterFit: s => {
      if (s.isHorizontal()) s.height = o.size;
      else s.width = o.size;
    }
  };
}

function baseOptions(padding, x, y) {
  return {
    responsive: false,
    animation: false,
    events: [],
    layout: { padding: padding },
    plugins: { legend: { display: false }, tooltip: { enabled: false } },
    scales: { x: makeAxis(x), y: makeAxis(y) }
  };
}

// open circles joined by a line that stops short of each circle (white halo hides it)
function depthSets(data) {
  return [
    { data: toXY(data), showLine: false, pointRadius: 2.3, pointBorderWidth: 1.1,
      pointBorderColor: '#111', pointBackgroundColor: 'rgba(0,0,0,0)', order: 0 },
    { data: toXY(data), showLine: false, pointRadius: 4.4, pointBorderWidth: 0,
      pointBackgroundColor: '#fff', order: 1 },
    { data: toXY(data), showLine: true, pointRadius: 0, borderWidth: 1, borderColor: '#2a2a2a', order: 2 }
  ];
}

function diamondSet(label, data, color, order) {
  return {
    label: label, data: toXY(data), pointStyle: 'rectRot', pointRadius: 4.3,
    pointBorderWidth: 0.5, pointBackgroundColor: color, pointBorderColor: color, order: order
  };
}

new Chart(document.getElementById('chartA'), {
  type: 'scatter',
  data: {
    datasets: [
      diamondSet('type 1', type1Points, '#d3d3d3', 3),
      diamondSet('type 2', type2Points, '#1a1a1a', 1),
      diamondSet('type 3', type3Points, '#8a8a8a', 2)
    ]
  },
  options: baseOptions({ top: 7, right: 22, left: 0, bottom: 0 },
    { min: -1.64, max: 0.575, ticks: pcaXTicks, labels: pcaXLabels, pad: 3, title: 'PCA1', titlePad: { bottom: 7 }, size: 55 },
    { min: -0.88, max: 0.54, ticks: pcaYTicks, labels: pcaYLabels, pad: 8, title: 'PCA2', titlePad: { top: 2 }, size: 66 })
});

new Chart(document.getElementById('chartB'), {
  type: 'scatter',
  data: { datasets: depthSets(diveB) },
  options: baseOptions({ top: 5, right: 3, left: 0, bottom: 0 },
    { min: 7.33, max: 12.28, ticks: timeBTicks, labels: timeBLabels, pad: 3, title: 'time', titlePad: { bottom: 6 }, size: 55 },
    { min: -106.3, max: 5.5, ticks: depthBTicks, labels: depthBLabels, pad: 2, title: 'depth (m)', titlePad: { top: 7 }, size: 78 })
});

new Chart(document.getElementById('chartC'), {
  type: 'scatter',
  data: { datasets: depthSets(diveC) },
  options: baseOptions({ top: 12, right: 14, left: 0, bottom: 0 },
    { min: 18.0, max: 29.95, ticks: timeCTicks, labels: timeCLabels, pad: 6, title: 'time', titlePad: { bottom: 0 }, size: 49 },
    { min: -149, max: 7.3, ticks: depthCTicks, labels: depthCLabels, pad: 3, title: 'depth (m)', titlePad: { top: 3 }, size: 66 })
});

new Chart(document.getElementById('chartD'), {
  type: 'scatter',
  data: { datasets: depthSets(diveD) },
  options: baseOptions({ top: 13, right: 3, left: 0, bottom: 0 },
    { min: 4.79, max: 12.53, ticks: timeDTicks, labels: timeDLabels, pad: 6, title: 'time', titlePad: { bottom: 0 }, size: 49 },
    { min: -391, max: 17.9, ticks: depthDTicks, labels: depthDLabels, pad: 2, title: 'depth (m)', titlePad: { top: 9 }, size: 78 })
});
</script>
</body>
</html>
